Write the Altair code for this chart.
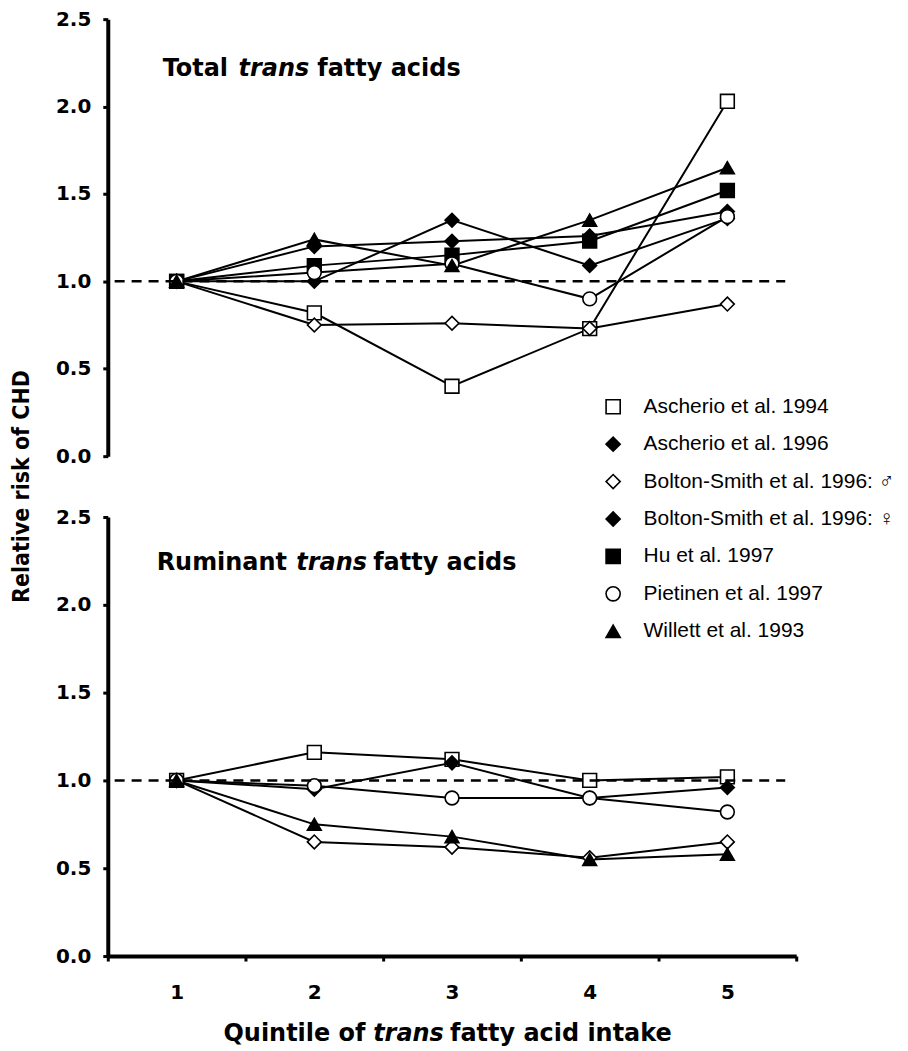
import altair as alt
import pandas as pd

quintiles = [1, 2, 3, 4, 5]

series_names = [
    "Ascherio et al. 1994",
    "Ascherio et al. 1996",
    "Bolton-Smith et al. 1996: ♂",
    "Bolton-Smith et al. 1996: ♀",
    "Hu et al. 1997",
    "Pietinen et al. 1997",
    "Willett et al. 1993",
]
series_shapes = ["square", "diamond", "diamond", "diamond", "square", "circle", "triangle-up"]
series_fills = ["white", "black", "white", "black", "black", "white", "black"]
series_strokes = ["black"] * 7

# Total trans fatty acids (relative risk by quintile)
total_ascherio_1994 = [1.00, 0.82, 0.40, 0.73, 2.03]
total_ascherio_1996 = [1.00, 1.20, 1.23, 1.26, 1.40]
total_bolton_men = [1.00, 0.75, 0.76, 0.73, 0.87]
total_bolton_women = [1.00, 1.00, 1.35, 1.09, 1.36]
total_hu_1997 = [1.00, 1.09, 1.15, 1.23, 1.52]
total_pietinen_1997 = [1.00, 1.05, 1.10, 0.90, 1.37]
total_willett_1993 = [1.00, 1.24, 1.09, 1.35, 1.65]

# Ruminant trans fatty acids
rum_ascherio_1994 = [1.00, 1.16, 1.12, 1.00, 1.02]
rum_bolton_men = [1.00, 0.65, 0.62, 0.56, 0.65]
rum_bolton_women = [1.00, 0.95, 1.10, 0.90, 0.96]
rum_pietinen_1997 = [1.00, 0.97, 0.90, 0.90, 0.82]
rum_willett_1993 = [1.00, 0.75, 0.68, 0.55, 0.58]

reference_level = [1.0]


def build(series_dict):
    rows = []
    for name, vals in series_dict.items():
        for q, v in zip(quintiles, vals):
            rows.append({"series": name, "quintile": q, "rr": v})
    return pd.DataFrame(rows)


total_df = build({
    series_names[0]: total_ascherio_1994,
    series_names[1]: total_ascherio_1996,
    series_names[2]: total_bolton_men,
    series_names[3]: total_bolton_women,
    series_names[4]: total_hu_1997,
    series_names[5]: total_pietinen_1997,
    series_names[6]: total_willett_1993,
})
rum_df = build({
    series_names[0]: rum_ascherio_1994,
    series_names[2]: rum_bolton_men,
    series_names[3]: rum_bolton_women,
    series_names[5]: rum_pietinen_1997,
    series_names[6]: rum_willett_1993,
})

FONT_B = "DejaVu Sans"
W, H_TOP, H_BOT = 690, 438, 440

x_scale = alt.Scale(domain=[0.5, 5.5], nice=False, zero=False)
y_scale = alt.Scale(domain=[0, 2.5], nice=False)

legend = alt.Legend(
    orient="none", legendX=496, legendY=378, title=None,
    labelFont="Liberation Sans, DejaVu Sans", labelFontSize=21, labelColor="black",
    symbolSize=200, symbolStrokeWidth=1.6,
    labelOffset=20, rowPadding=15.5, labelLimit=400,
)


def y_axis(with_title):
    kw = dict(
        values=[0, 0.5, 1, 1.5, 2, 2.5], format=".1f",
        labelFont=FONT_B, labelFontWeight="bold", labelFontSize=20,
        labelColor="black", labelPadding=12, tickSize=5, tickWidth=3,
        tickColor="black", domainColor="black", domainWidth=4, grid=False,
    )
    if with_title:
        kw.update(
            title="Relative risk of CHD",
            titleFont="DejaVu Sans Condensed, Liberation Sans",
            titleFontSize=23, titleFontWeight="bold", titleColor="black",
            titleAngle=270, titleX=-86, titleY=468, titleAlign="center",
            titleBaseline="middle",
        )
    else:
        kw["title"] = None
    return alt.Axis(**kw)


x_axis_bottom = alt.Axis(
    values=[0.5, 1.5, 2.5, 3.5, 4.5, 5.5],
    labelExpr="datum.value < 5 ? format(datum.value + 0.5, 'd') : ''",
    labelOffset=69, labelFlush=False, labelOverlap=False,
    labelFont=FONT_B, labelFontWeight="bold", labelFontSize=20,
    labelColor="black", labelPadding=22, tickSize=5, tickWidth=3,
    tickColor="black", domainColor="black", domainWidth=4, grid=False,
    title=None,
)


def text_seg(txt, x, y, size, italic=False):
    return alt.Chart(pd.DataFrame({"t": [txt]})).mark_text(
        align="left", baseline="alphabetic", font=FONT_B, fontSize=size,
        fontWeight="bold", fontStyle="italic" if italic else "normal",
        color="black",
    ).encode(x=alt.value(x), y=alt.value(y), text="t:N")


def panel(df, height, with_y_title, show_x, with_legend, title_segments):
    x_enc = alt.X("quintile:Q", scale=x_scale,
                  axis=x_axis_bottom if show_x else None)
    y_enc = alt.Y("rr:Q", scale=y_scale, axis=y_axis(with_y_title))
    base = alt.Chart(df)
    ref = alt.Chart(pd.DataFrame({"ref": reference_level, "xa": [0.55], "xb": [5.42]})).mark_rule(
        color="black", strokeWidth=2.5, strokeDash=[10, 7]
    ).encode(
        y=alt.Y("ref:Q", scale=y_scale),
        x=alt.X("xa:Q", scale=x_scale), x2="xb:Q",
    )
    lines = base.mark_line(color="black", strokeWidth=2).encode(
        x=x_enc, y=y_enc, detail="series:N"
    )
    lg = legend if with_legend else None
    pts = base.mark_point(filled=True, strokeWidth=1.6,
                          opacity=1, size=190).encode(
        x=x_enc, y=y_enc,
        shape=alt.Shape("series:N", scale=alt.Scale(domain=series_names, range=series_shapes), legend=lg),
        fill=alt.Fill("series:N", scale=alt.Scale(domain=series_names, range=series_fills), legend=lg),
        stroke=alt.Stroke("series:N", scale=alt.Scale(domain=series_names, range=series_strokes), legend=lg),
    )
    layers = [lines, pts, ref] + [text_seg(*s) for s in title_segments]
    return alt.layer(*layers).properties(width=W, height=height)


top = panel(total_df, H_TOP, True, False, True, [
    ("Total", 55, 57, 24), ("trans", 131, 57, 24, True), ("fatty acids", 210, 57, 24),
])
bottom = panel(rum_df, H_BOT, False, True, False, [
    ("Ruminant", 49, 53, 24), ("trans", 189, 53, 24, True), ("fatty acids", 266, 53, 24),
    ("Quintile of", 116, 525, 24), ("trans", 266, 525, 24, True), ("fatty acid intake", 343, 525, 24),
])

chart = alt.vconcat(top, bottom, spacing=61, bounds="flush").resolve_scale(
    shape="independent", fill="independent", stroke="independent"
).configure_view(stroke=None).properties(
    padding={"left": 3, "top": 0, "right": 5, "bottom": 0},
    background="white",
)

chart.save("out.html", embed_options={"renderer": "svg", "actions": False})
